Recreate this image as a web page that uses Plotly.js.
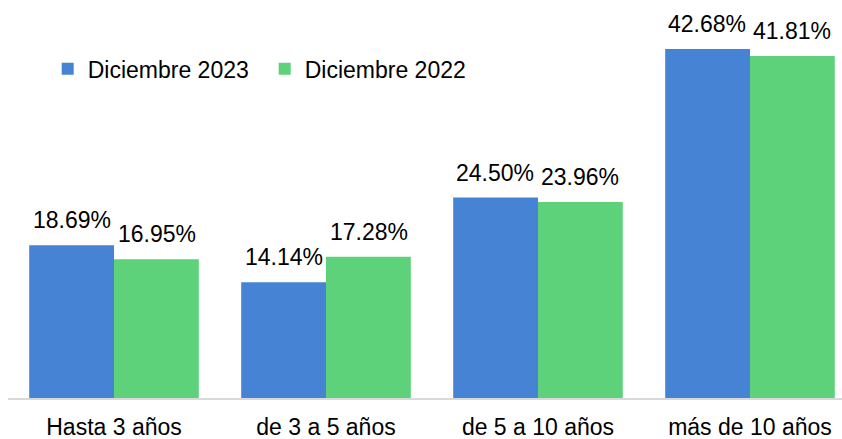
<!DOCTYPE html>
<html>
<head>
<meta charset="utf-8">
<script src="https://cdn.plot.ly/plotly-3.0.1.min.js"></script>
<style>html,body{margin:0;padding:0;background:#fff;}#chart{width:842px;height:439px;}</style>
</head>
<body>
<div id="chart"></div>
<script>
const categories = ["Hasta 3 años", "de 3 a 5 años", "de 5 a 10 años", "más de 10 años"];
const seriesNames = ["Diciembre 2023", "Diciembre 2022"];
const values2023 = [18.69, 14.14, 24.50, 42.68];
const values2022 = [16.95, 17.28, 23.96, 41.81];

const fontFam = "Liberation Sans, Arial, sans-serif";
const fmt = v => v.toFixed(2) + "%";

const traces = [
  {type: "bar", name: seriesNames[0], x: categories, y: values2023, marker: {color: "#4683D4"}},
  {type: "bar", name: seriesNames[1], x: categories, y: values2022, marker: {color: "#5DD27A"}}
];

const annotations = [];
[values2023, values2022].forEach((vals, si) => {
  vals.forEach((v, i) => {
    annotations.push({x: categories[i], y: v, xref: "x", yref: "y", text: fmt(v),
      showarrow: false, xanchor: "center", yanchor: "bottom",
      xshift: si === 0 ? -42.5 : 42.5, yshift: 10,
      font: {family: fontFam, size: 23, color: "#000"}});
  });
});

const layout = {
  width: 842, height: 439,
  margin: {l: 8, r: 0, t: 0, b: 41},
  paper_bgcolor: "#fff", plot_bgcolor: "#fff",
  barmode: "group", bargap: 0.2, bargroupgap: 0,
  font: {family: fontFam, size: 23, color: "#000"},
  showlegend: true,
  annotations: annotations,
  legend: {orientation: "h", x: 0.0476, xanchor: "left", y: 0.827, yanchor: "middle",
           font: {family: fontFam, size: 23, color: "#000"}, bgcolor: "rgba(0,0,0,0)",
           traceorder: "normal", entrywidth: 172, entrywidthmode: "pixels"},
  xaxis: {type: "category", range: [-0.5, 3.434], showline: true, linecolor: "#D9D9D9", linewidth: 1.5,
          ticks: "", showgrid: false, ticklabelstandoff: 8,
          tickfont: {family: fontFam, size: 23, color: "#000"}},
  yaxis: {range: [0, 48.66], visible: false, showgrid: false, zeroline: false}
};

Plotly.newPlot("chart", traces, layout, {displayModeBar: false, staticPlot: true});
</script>
</body>
</html>
